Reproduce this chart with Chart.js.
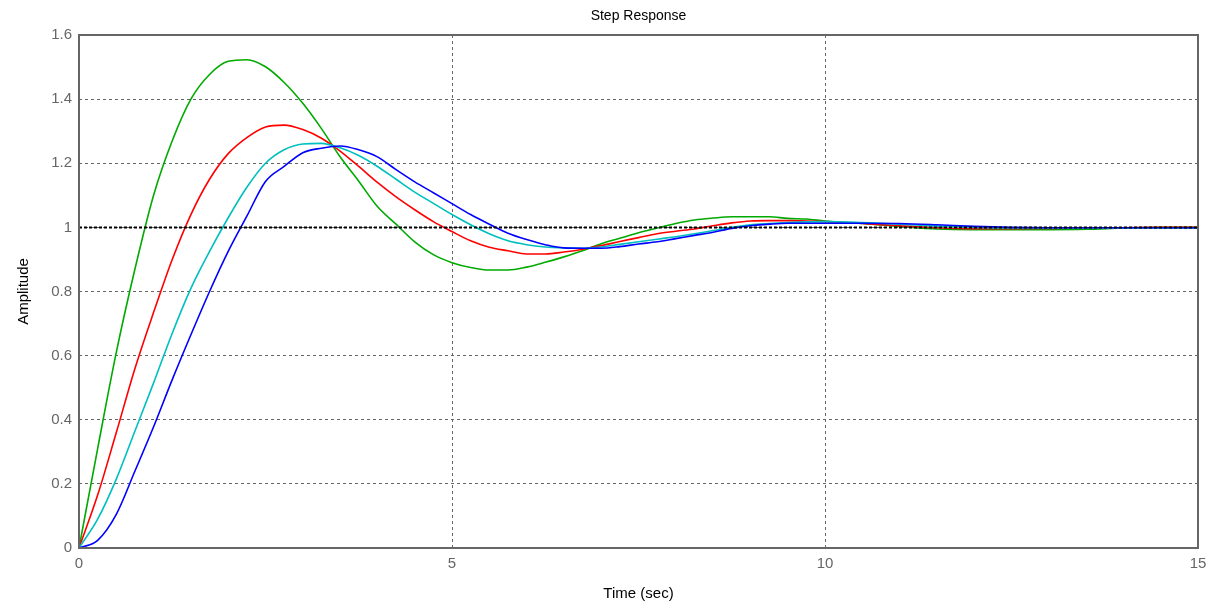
<!DOCTYPE html>
<html>

<head>
  <title>Step Response</title>
  <script src="https://cdn.jsdelivr.net/npm/chart.js"></script>
  <style type="text/css">
    body {
      margin: 0;
      background: #fff;
    }
  </style>
</head>

<body>
  <canvas id="stepChart" width="1212" height="603"></canvas>

  <script>
    // sample times (sec)
    const time = [0, 0.25, 0.5, 0.75, 1, 1.25, 1.5, 1.75, 2, 2.25, 2.5, 2.75, 3, 3.25, 3.5, 3.75, 4, 4.25, 4.5, 4.75,
      5, 5.25, 5.5, 5.75, 6, 6.25, 6.5, 6.75, 7, 7.25, 7.5, 7.75, 8, 8.25, 8.5, 8.75, 9, 9.25, 9.5, 9.75,
      10, 10.5, 11, 11.5, 12, 12.5, 13, 13.5, 14, 14.5, 15];

    // step response of each system
    const greenResp = [0, 0.31, 0.61, 0.87, 1.10, 1.27, 1.40, 1.477, 1.518, 1.523, 1.501, 1.452, 1.387, 1.308, 1.22, 1.144, 1.065, 1.01, 0.955, 0.915,
      0.89, 0.875, 0.867, 0.867, 0.876, 0.891, 0.908, 0.927, 0.949, 0.966, 0.983, 0.998, 1.012, 1.023, 1.029, 1.033, 1.033, 1.033, 1.028, 1.026,
      1.02, 1.012, 1.003, 0.995, 0.993, 0.993, 0.993, 0.994, 0.998, 1.0, 1.0];
    const redResp = [0, 0.165, 0.36, 0.56, 0.735, 0.90, 1.04, 1.15, 1.23, 1.28, 1.313, 1.319, 1.305, 1.278, 1.238, 1.19, 1.14, 1.095, 1.055, 1.018,
      0.987, 0.958, 0.938, 0.927, 0.917, 0.917, 0.923, 0.932, 0.943, 0.956, 0.968, 0.98, 0.988, 0.995, 1.005, 1.014, 1.02, 1.021, 1.021, 1.02,
      1.018, 1.012, 1.005, 0.999, 0.996, 0.996, 0.997, 0.998, 0.999, 1.0, 1.0];
    const cyanResp = [0, 0.09, 0.215, 0.365, 0.515, 0.67, 0.81, 0.925, 1.03, 1.125, 1.20, 1.242, 1.26, 1.262, 1.248, 1.224, 1.19, 1.15, 1.11, 1.075,
      1.04, 1.008, 0.98, 0.958, 0.946, 0.939, 0.936, 0.935, 0.939, 0.947, 0.955, 0.963, 0.971, 0.98, 0.99, 1.0, 1.008, 1.012, 1.015, 1.017,
      1.018, 1.015, 1.01, 1.004, 1.0, 0.998, 0.998, 0.998, 0.998, 0.998, 0.998];
    const blueResp = [0, 0.024, 0.105, 0.24, 0.378, 0.525, 0.665, 0.80, 0.925, 1.035, 1.143, 1.19, 1.233, 1.247, 1.254, 1.242, 1.22, 1.18, 1.142, 1.108,
      1.074, 1.04, 1.01, 0.982, 0.962, 0.946, 0.936, 0.935, 0.935, 0.94, 0.948, 0.955, 0.965, 0.975, 0.985, 0.997, 1.005, 1.01, 1.013, 1.013,
      1.013, 1.013, 1.012, 1.008, 1.003, 1.0, 0.999, 0.999, 0.999, 0.999, 0.999];

    // steady state reference line
    const refTime = [0, 15];
    const refValue = [1, 1];

    const xTicks = [0, 5, 10, 15];
    const yTicks = [0, 0.2, 0.4, 0.6, 0.8, 1, 1.2, 1.4, 1.6];

    function toPoints(xs, ys) {
      return xs.map((x, i) => ({ x: x, y: ys[i] }));
    }

    function line(data, color, order) {
      return {
        data: data,
        borderColor: color,
        borderWidth: 1.6,
        pointRadius: 0,
        cubicInterpolationMode: 'monotone',
        fill: false,
        order: order
      };
    }

    // box around the plot area
    const frame = {
      id: 'frame',
      afterDatasetsDraw(chart) {
        const a = chart.chartArea;
        const ctx = chart.ctx;
        ctx.save();
        ctx.strokeStyle = '#666';
        ctx.lineWidth = 2;
        ctx.strokeRect(a.left, a.top, a.right - a.left, a.bottom - a.top);
        ctx.restore();
      }
    };

    const font = "'Liberation Sans', Arial, sans-serif";

    var ctx = document.getElementById('stepChart').getContext('2d');
    var stepChart = new Chart(ctx, {
      type: 'line',
      data: {
        datasets: [
          Object.assign(line(toPoints(refTime, refValue), '#000', 0), { borderWidth: 2, borderDash: [3, 2] }),
          line(toPoints(time, blueResp), '#0000ff', 1),
          line(toPoints(time, cyanResp), 'rgb(0,191,191)', 2),
          line(toPoints(time, redResp), '#ff0000', 3),
          line(toPoints(time, greenResp), 'rgb(0,170,0)', 4)
        ]
      },
      options: {
        responsive: false,
        animation: false,
        layout: { padding: { left: 0, right: 14, top: 0, bottom: 0 } },
        plugins: {
          legend: { display: false },
          tooltip: { enabled: false },
          title: {
            display: true,
            fullSize: false,
            text: 'Step Response',
            color: '#000',
            font: { family: font, size: 14, weight: 'normal', lineHeight: 1.2 },
            padding: { top: 8, bottom: 10.2 }
          }
        },
        scales: {
          x: {
            type: 'linear',
            min: 0,
            max: 15,
            afterBuildTicks(s) { s.ticks = xTicks.map(v => ({ value: v })); },
            afterFit(s) {
              s.height = 55;
              s.paddingLeft = 0;
              s.paddingRight = 0;
            },
            border: { display: false, dash: [3, 3] },
            grid: { color: '#666', lineWidth: 1, drawTicks: false },
            ticks: { color: '#666', padding: 7, autoSkip: false, maxRotation: 0, font: { family: font, size: 15 } },
            title: {
              display: true,
              text: 'Time (sec)',
              color: '#000',
              font: { family: font, size: 15 },
              padding: { top: 4, bottom: 0 }
            }
          },
          y: {
            min: 0,
            max: 1.6,
            afterBuildTicks(s) { s.ticks = yTicks.map(v => ({ value: v })); },
            afterFit(s) {
              s.width = 79;
              s.paddingTop = 0;
              s.paddingBottom = 0;
            },
            border: { display: false, dash: [3, 3] },
            grid: { color: '#666', lineWidth: 1, drawTicks: false },
            ticks: {
              color: '#666',
              padding: 7,
              autoSkip: false,
              font: { family: font, size: 15 },
              callback: v => String(Math.round(v * 10) / 10)
            },
            title: {
              display: true,
              text: 'Amplitude',
              color: '#000',
              font: { family: font, size: 15 },
              padding: { top: 15, bottom: 0 }
            }
          }
        }
      },
      plugins: [frame]
    });
  </script>
</body>

</html>
